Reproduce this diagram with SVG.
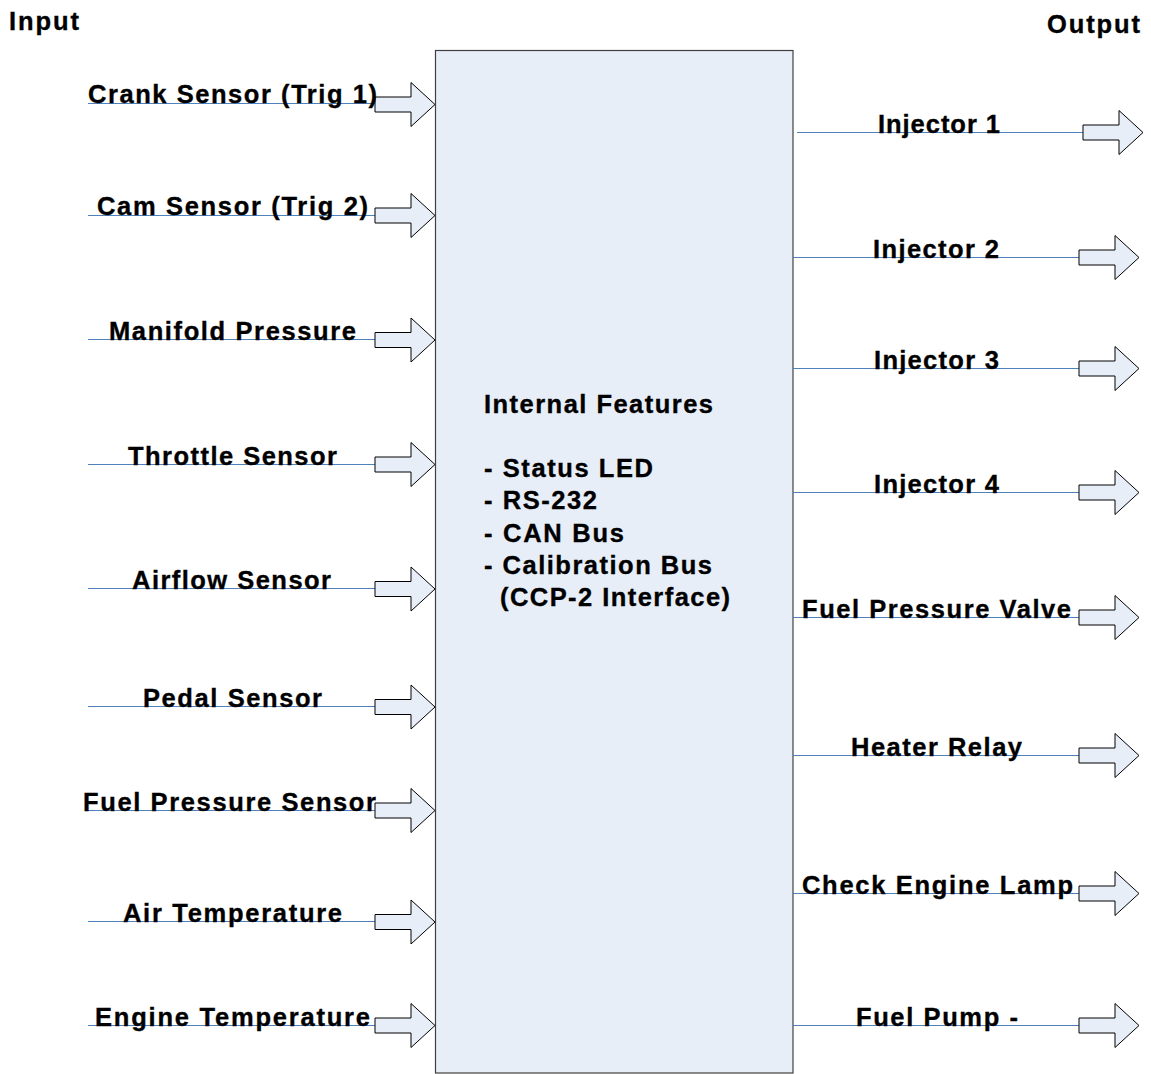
<svg xmlns="http://www.w3.org/2000/svg" width="1151" height="1074" viewBox="0 0 1151 1074">
<style>
text{font-family:"Liberation Sans",Arial,sans-serif;font-weight:bold;font-size:25.5px;fill:#000;stroke:#000;stroke-width:0.35}
.ln{stroke:#4F81BD;stroke-width:1;fill:none}
.ar{fill:#E8EEF8;stroke:#000;stroke-width:1}
.box{fill:#E8EEF8;stroke:#404040;stroke-width:1.2}
</style>
<defs>
<path id="la" d="M375,-7.5 H411 V-22 L435,0 L411,22 V7.5 H375 Z" class="ar"/>
<path id="ra" d="M1079,-7.5 H1115 V-22 L1139,0 L1115,22 V7.5 H1079 Z" class="ar"/>
</defs>
<rect width="1151" height="1074" fill="#fff"/>
<text x="9" y="30" textLength="70" lengthAdjust="spacing">Input</text>
<text x="1047" y="33" textLength="93" lengthAdjust="spacing">Output</text>

<g id="ecu">
<rect class="box" x="435.5" y="50.5" width="357.5" height="1022.5"/>
<text x="484" y="413" textLength="229" lengthAdjust="spacing">Internal Features</text>
<text x="484" y="477" textLength="169" lengthAdjust="spacing">- Status LED</text>
<text x="484" y="509" textLength="113" lengthAdjust="spacing">- RS-232</text>
<text x="484" y="542" textLength="140" lengthAdjust="spacing">- CAN Bus</text>
<text x="484" y="574" textLength="228" lengthAdjust="spacing">- Calibration Bus</text>
<text x="500" y="606" textLength="230" lengthAdjust="spacing">(CCP-2 Interface)</text>
</g>

<g id="connectors">
<line class="ln" x1="88" y1="103.5" x2="375" y2="103.5"/>
<line class="ln" x1="88" y1="215.5" x2="375" y2="215.5"/>
<line class="ln" x1="88" y1="339.5" x2="375" y2="339.5"/>
<line class="ln" x1="88" y1="464.5" x2="375" y2="464.5"/>
<line class="ln" x1="88" y1="588.5" x2="375" y2="588.5"/>
<line class="ln" x1="88" y1="706.5" x2="375" y2="706.5"/>
<line class="ln" x1="88" y1="810.5" x2="375" y2="810.5"/>
<line class="ln" x1="88" y1="921.5" x2="375" y2="921.5"/>
<line class="ln" x1="88" y1="1025.5" x2="375" y2="1025.5"/>
<line class="ln" x1="797" y1="132.5" x2="1083" y2="132.5"/>
<line class="ln" x1="793" y1="257.5" x2="1079" y2="257.5"/>
<line class="ln" x1="793" y1="368.5" x2="1079" y2="368.5"/>
<line class="ln" x1="793" y1="492.5" x2="1079" y2="492.5"/>
<line class="ln" x1="793" y1="617.5" x2="1079" y2="617.5"/>
<line class="ln" x1="793" y1="755.5" x2="1079" y2="755.5"/>
<line class="ln" x1="793" y1="893.5" x2="1079" y2="893.5"/>
<line class="ln" x1="793" y1="1025.5" x2="1079" y2="1025.5"/>
</g>

<g id="in-crank"><use href="#la" y="104.5"/><text x="88" y="103" textLength="289" lengthAdjust="spacing">Crank Sensor (Trig 1)</text></g>
<g id="in-cam"><use href="#la" y="215.5"/><text x="97" y="215" textLength="271" lengthAdjust="spacing">Cam Sensor (Trig 2)</text></g>
<g id="in-map"><use href="#la" y="340"/><text x="109" y="339.5" textLength="247" lengthAdjust="spacing">Manifold Pressure</text></g>
<g id="in-tps"><use href="#la" y="464.5"/><text x="128" y="464.5" textLength="209" lengthAdjust="spacing">Throttle Sensor</text></g>
<g id="in-maf"><use href="#la" y="589"/><text x="132" y="589" textLength="199" lengthAdjust="spacing">Airflow Sensor</text></g>
<g id="in-pedal"><use href="#la" y="707"/><text x="143" y="707" textLength="179" lengthAdjust="spacing">Pedal Sensor</text></g>
<g id="in-fps"><use href="#la" y="810.5"/><text x="83" y="810.5" textLength="293" lengthAdjust="spacing">Fuel Pressure Sensor</text></g>
<g id="in-iat"><use href="#la" y="922"/><text x="123" y="922" textLength="219" lengthAdjust="spacing">Air Temperature</text></g>
<g id="in-ect"><use href="#la" y="1025.5"/><text x="95" y="1025.5" textLength="275" lengthAdjust="spacing">Engine Temperature</text></g>

<g id="out-inj1"><use href="#ra" x="4" y="132.5"/><text x="878" y="132.5" textLength="122" lengthAdjust="spacing">Injector 1</text></g>
<g id="out-inj2"><use href="#ra" y="257.5"/><text x="873" y="257.5" textLength="126" lengthAdjust="spacing">Injector 2</text></g>
<g id="out-inj3"><use href="#ra" y="368.5"/><text x="874" y="368.5" textLength="125" lengthAdjust="spacing">Injector 3</text></g>
<g id="out-inj4"><use href="#ra" y="492.5"/><text x="874" y="492.5" textLength="125" lengthAdjust="spacing">Injector 4</text></g>
<g id="out-fpv"><use href="#ra" y="617.5"/><text x="802" y="617.5" textLength="269" lengthAdjust="spacing">Fuel Pressure Valve</text></g>
<g id="out-heater"><use href="#ra" y="755.5"/><text x="851" y="755.5" textLength="171" lengthAdjust="spacing">Heater Relay</text></g>
<g id="out-cel"><use href="#ra" y="893.5"/><text x="802" y="893.5" textLength="271" lengthAdjust="spacing">Check Engine Lamp</text></g>
<g id="out-pump"><use href="#ra" y="1025.5"/><text x="856" y="1025.5" textLength="162" lengthAdjust="spacing">Fuel Pump -</text></g>
</svg>
